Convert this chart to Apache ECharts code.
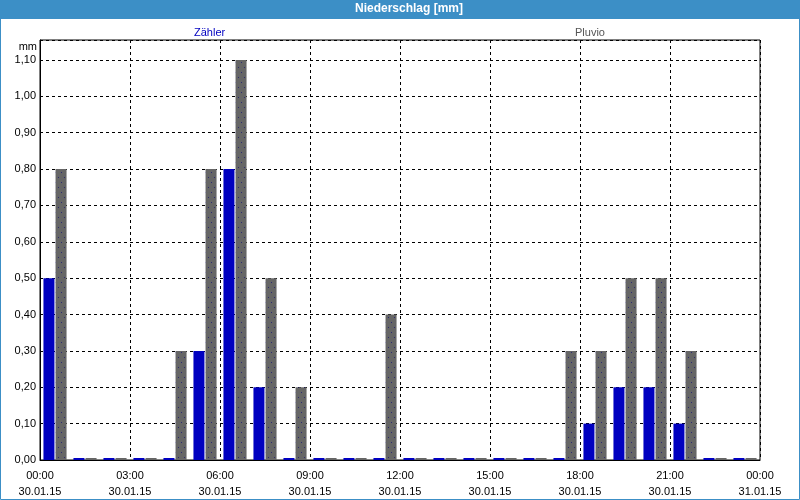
<!DOCTYPE html>
<html>
<head>
<meta charset="utf-8">
<title>Niederschlag</title>
<script src="https://cdn.jsdelivr.net/npm/echarts@6/dist/echarts.min.js"></script>
<style>
  html, body { margin: 0; padding: 0; background: #fff; }
  #chart { width: 800px; height: 500px; }
</style>
</head>
<body>
<div id="chart"></div>
<script>
// stündliche Werte 30.01.15 00:00 - 31.01.15 00:00
const hours = ['00', '01', '02', '03', '04', '05', '06', '07', '08', '09', '10', '11',
  '12', '13', '14', '15', '16', '17', '18', '19', '20', '21', '22', '23'];
const zaehler = [0.5, 0, 0, 0, 0, 0.3, 0.8, 0.2, 0, 0, 0, 0,
  0, 0, 0, 0, 0, 0, 0.1, 0.2, 0.2, 0.1, 0, 0];
const pluvio = [0.8, 0, 0, 0, 0.3, 0.8, 1.1, 0.5, 0.2, 0, 0, 0.4,
  0, 0, 0, 0, 0, 0.3, 0.3, 0.5, 0.5, 0.3, 0, 0];

// Achsenbeschriftung alle 3 Stunden
const timeLabels = ['00:00', '03:00', '06:00', '09:00', '12:00', '15:00', '18:00', '21:00', '00:00'];
const dateLabels = ['30.01.15', '30.01.15', '30.01.15', '30.01.15', '30.01.15',
  '30.01.15', '30.01.15', '30.01.15', '31.01.15'];

const FONT = 'Tahoma, "Liberation Sans", Arial, sans-serif';
const BLUE = '#0000c0';
const GRAY = '#666666';
const FRAME = '#3c8fc6';

// gepunktetes Grau fuer Pluvio
function dotPattern() {
  const c = document.createElement('canvas');
  c.width = 6;
  c.height = 10;
  const ctx = c.getContext('2d');
  ctx.fillStyle = GRAY;
  ctx.fillRect(0, 0, 6, 10);
  ctx.fillStyle = '#2a2a70';
  ctx.fillRect(1, 2, 1, 1);
  ctx.fillRect(4, 7, 1, 1);
  return c;
}

const chart = echarts.init(document.getElementById('chart'));

const option = {
  animation: false,
  textStyle: { fontFamily: FONT },
  title: {
    text: 'Niederschlag [mm]',
    left: 355,
    top: 3,
    padding: 0,
    textStyle: { color: '#fff', fontSize: 12, fontWeight: 'bold', fontFamily: FONT }
  },
  legend: [
    {
      data: [{ name: 'Zähler', textStyle: { color: BLUE } }],
      left: 184, top: 22,
      itemWidth: 0, itemHeight: 0,
      selectedMode: false,
      textStyle: { fontSize: 11, fontFamily: FONT }
    },
    {
      data: [{ name: 'Pluvio', textStyle: { color: '#555' } }],
      left: 565, top: 22,
      itemWidth: 0, itemHeight: 0,
      selectedMode: false,
      textStyle: { fontSize: 11, fontFamily: FONT }
    }
  ],
  graphic: [
    // Titelleiste und Fensterrahmen
    { type: 'rect', z: -1, shape: { x: 0, y: 0, width: 800, height: 19 }, style: { fill: FRAME } },
    { type: 'rect', z: 100, shape: { x: 0.5, y: 0.5, width: 799, height: 499 },
      style: { fill: null, stroke: FRAME, lineWidth: 1 } },
    { type: 'text', x: 37, y: 41,
      style: { text: 'mm', fill: '#000', font: '11px ' + FONT, align: 'right' } }
  ],
  grid: {
    left: 40, right: 40, top: 40, bottom: 39,
    show: true,
    borderColor: '#000',
    borderWidth: 1,
    backgroundColor: '#fff'
  },
  xAxis: [
    {
      type: 'category',
      data: hours,
      boundaryGap: true,
      axisLine: { lineStyle: { color: '#000' } },
      axisTick: { interval: 0, length: 3, lineStyle: { color: '#000' } },
      axisLabel: { show: false },
      splitLine: { show: false }
    },
    {
      type: 'value',
      position: 'bottom',
      min: 0,
      max: 24,
      interval: 3,
      axisLine: { show: false },
      axisTick: { show: false },
      axisLabel: {
        color: '#000',
        fontSize: 11,
        lineHeight: 16,
        margin: 8,
        formatter: function (v) {
          const i = Math.round(v / 3);
          return timeLabels[i] + '\n' + dateLabels[i];
        }
      },
      splitLine: { show: true, lineStyle: { color: '#000', type: [3, 3] } }
    }
  ],
  yAxis: {
    type: 'value',
    min: 0,
    max: 1.155,
    interval: 0.1,
    axisLine: { show: true, lineStyle: { color: '#000' } },
    axisTick: { show: false },
    axisLabel: {
      color: '#000',
      fontSize: 11,
      margin: 4,
      showMaxLabel: false,
      formatter: v => v.toFixed(2).replace('.', ',')
    },
    splitLine: { show: true, lineStyle: { color: '#000', type: [3, 3] } }
  },
  series: [
    {
      name: 'Zähler',
      type: 'bar',
      data: zaehler,
      barWidth: 11,
      barGap: '10%',
      barMinHeight: 2,
      itemStyle: { color: BLUE }
    },
    {
      name: 'Pluvio',
      type: 'bar',
      data: pluvio,
      barWidth: 11,
      barMinHeight: 2,
      itemStyle: {
        color: { image: dotPattern(), repeat: 'repeat' }
      }
    }
  ]
};

chart.setOption(option);
</script>
</body>
</html>
